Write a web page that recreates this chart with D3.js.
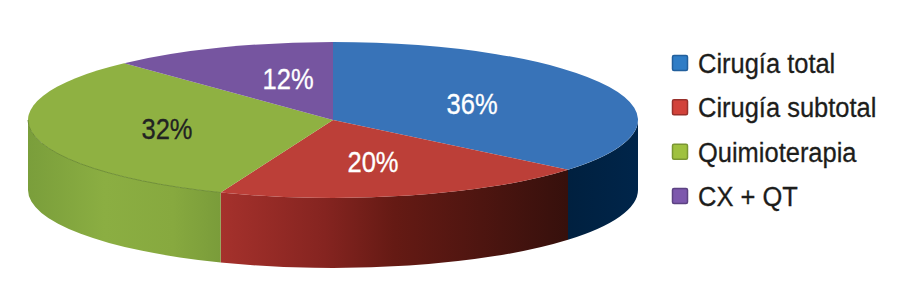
<!DOCTYPE html>
<html>
<head>
<meta charset="utf-8">
<script src="https://cdnjs.cloudflare.com/ajax/libs/d3/7.8.5/d3.min.js"></script>
<style>
html, body { margin: 0; padding: 0; background: #fff; }
svg { display: block; }
text { font-family: "Liberation Sans", sans-serif; }
</style>
</head>
<body>
<div id="chart"></div>
<script>
var categories = ["Cirugía total", "Cirugía subtotal", "Quimioterapia", "CX + QT"];
var values = [36, 20, 32, 12];
var topColors = ["#3873b8", "#bc3f38", "#8fb142", "#7655a0"];
var labelColors = ["#fff", "#fff", "#222", "#fff"];
var swatchColors = ["#2f7dc6", "#d2423a", "#9fc13f", "#7d58ad"];
var swatchBorders = ["#225f9c", "#98302b", "#7a9632", "#5c4282"];
var sideStops = [
  [["0%", "#00203f"], ["100%", "#00254a"]],
  [["0%", "#a5312c"], ["30%", "#852420"], ["50%", "#651a14"], ["100%", "#36100c"]],
  [["0%", "#7a9e3b"], ["40%", "#8bae42"], ["75%", "#87a93f"], ["100%", "#7a9c3a"]]
];

var width = 908, height = 295;
var cx = 333, cy = 120, rx = 305, ry = 78, depth = 70;

var svg = d3.select("#chart").append("svg")
  .attr("width", width)
  .attr("height", height);

var defs = svg.append("defs");

var pie = d3.pie().sort(null).value(function(d) { return d; });
var slices = pie(values);

var arc = d3.arc().innerRadius(0).outerRadius(rx);

// pie angles run clockwise from the top, squash them onto the ellipse
function px(a) { return cx + rx * Math.sin(a); }
function py(a) { return cy - ry * Math.cos(a); }

function sidePath(a0, a1) {
  var p = "M" + px(a0) + "," + py(a0);
  p += "A" + rx + "," + ry + " 0 0 1 " + px(a1) + "," + py(a1);
  p += "L" + px(a1) + "," + (py(a1) + depth);
  p += "A" + rx + "," + ry + " 0 0 0 " + px(a0) + "," + (py(a0) + depth);
  return p + "Z";
}

// only the front half of the rim can be seen
var front = [Math.PI / 2, Math.PI * 3 / 2];
var sides = svg.append("g").attr("class", "sides");

slices.forEach(function(s, i) {
  var a0 = Math.max(s.startAngle, front[0]);
  var a1 = Math.min(s.endAngle, front[1]);
  if (a1 <= a0) return;

  var grad = defs.append("linearGradient")
    .attr("id", "side" + i)
    .attr("gradientUnits", "userSpaceOnUse")
    .attr("x1", Math.min(px(a0), px(a1)))
    .attr("x2", Math.max(px(a0), px(a1)))
    .attr("y1", 0)
    .attr("y2", 0);
  // stops are listed left to right on the screen
  grad.selectAll("stop")
    .data(sideStops[i])
    .enter().append("stop")
    .attr("offset", function(d) { return d[0]; })
    .attr("stop-color", function(d) { return d[1]; });

  sides.append("path")
    .attr("d", sidePath(a0, a1))
    .attr("fill", "url(#side" + i + ")");
});

svg.append("g")
  .attr("class", "top")
  .attr("transform", "translate(" + cx + "," + cy + ") scale(1," + (ry / rx) + ")")
  .selectAll("path")
  .data(slices)
  .enter().append("path")
  .attr("d", arc)
  .attr("fill", function(d, i) { return topColors[i]; });

// thin dark edge where the green top meets its rim
svg.append("path")
  .attr("d", "M" + px(slices[2].startAngle) + "," + py(slices[2].startAngle) +
    "A" + rx + "," + ry + " 0 0 1 " + px(front[1]) + "," + py(front[1]))
  .attr("fill", "none")
  .attr("stroke", "#6f8f36")
  .attr("stroke-width", 1);

// label spots as a share of the radius, x and y don't sit on the same ray
var labelRadiusX = [0.504, 0.527, 0.554, 0.40];
var labelRadiusY = [0.5, 0.54, 0.55, 0.58];

// no condensed font here, so narrow the glyphs by hand
svg.append("g")
  .attr("class", "labels")
  .selectAll("text")
  .data(slices)
  .enter().append("text")
  .attr("transform", function(d, i) {
    var mid = (d.startAngle + d.endAngle) / 2;
    var x = cx + labelRadiusX[i] * rx * Math.sin(mid);
    var y = cy - labelRadiusY[i] * ry * Math.cos(mid) + 11;
    return "translate(" + x + "," + y + ") scale(0.88,1)";
  })
  .attr("text-anchor", "middle")
  .attr("font-size", 29)
  .attr("fill", function(d, i) { return labelColors[i]; })
  .attr("stroke", function(d, i) { return labelColors[i]; })
  .attr("stroke-width", 0.3)
  .text(function(d) { return d.data + "%"; });

var legendY = d3.scalePoint().domain(categories).range([63, 196]);

var legend = svg.append("g")
  .attr("class", "legend")
  .selectAll("g")
  .data(categories)
  .enter().append("g")
  .attr("transform", function(d) { return "translate(672," + legendY(d) + ")"; });

legend.append("rect")
  .attr("x", 0.5)
  .attr("y", -7.5)
  .attr("width", 15)
  .attr("height", 15)
  .attr("rx", 1.5)
  .attr("fill", function(d, i) { return swatchColors[i]; })
  .attr("stroke", function(d, i) { return swatchBorders[i]; })
  .attr("stroke-width", 1.5);

legend.append("text")
  .attr("transform", "translate(26,10) scale(0.91,1)")
  .attr("font-size", 28)
  .attr("fill", "#1d1d1b")
  .attr("stroke", "#1d1d1b")
  .attr("stroke-width", 0.3)
  .text(function(d) { return d; });
</script>
</body>
</html>
